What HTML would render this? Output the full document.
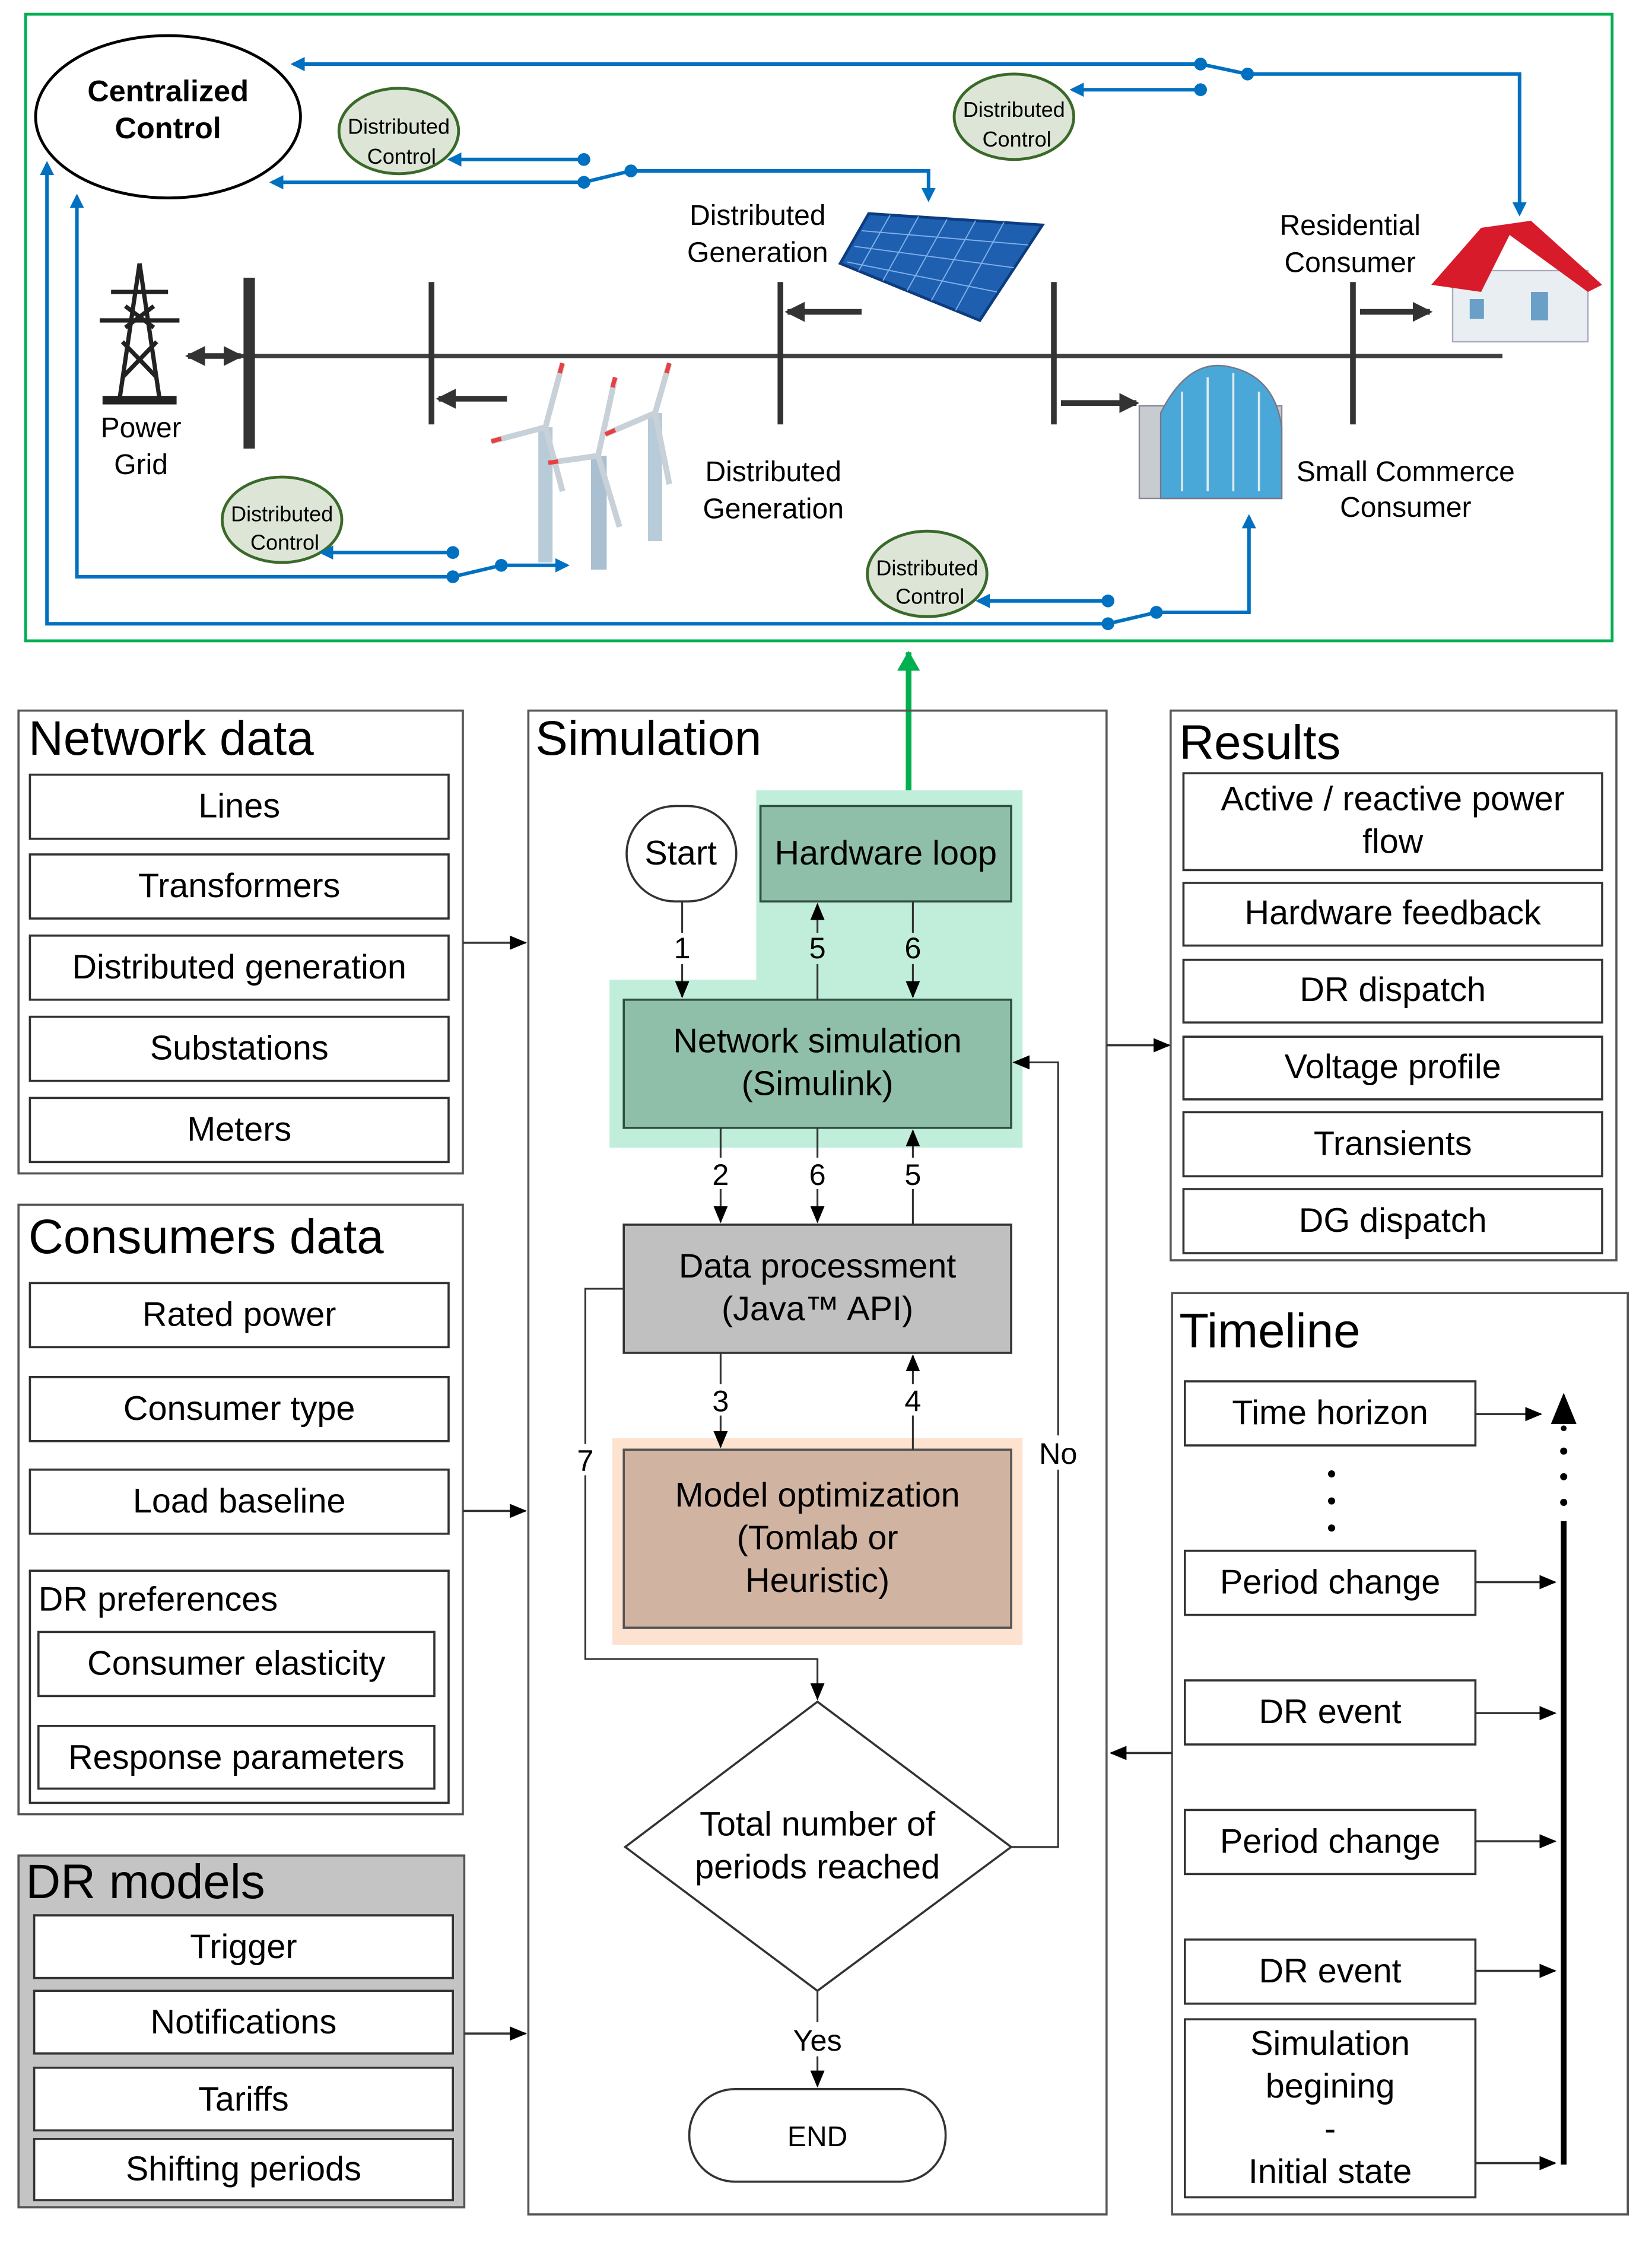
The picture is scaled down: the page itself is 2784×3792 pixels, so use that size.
<!DOCTYPE html>
<html><head><meta charset="utf-8"><style>
html,body{margin:0;padding:0;background:#fff;}
svg{display:block;}
text{font-family:"Liberation Sans",sans-serif;fill:#000;}
</style></head><body>
<svg width="2784" height="3792" viewBox="0 0 1160 1580" xmlns="http://www.w3.org/2000/svg">
<defs>
<marker id="bA" markerWidth="10" markerHeight="10" refX="8" refY="5" orient="auto" markerUnits="userSpaceOnUse"><path d="M0,0 L10,5 L0,10 z" fill="#0070c0"/></marker>
<marker id="kA" markerWidth="12" markerHeight="10" refX="11" refY="5" orient="auto" markerUnits="userSpaceOnUse"><path d="M0,0 L12,5 L0,10 z" fill="#000"/></marker>
<marker id="gA" markerWidth="14" markerHeight="16" refX="13" refY="8" orient="auto" markerUnits="userSpaceOnUse"><path d="M0,0 L14,8 L0,16 z" fill="#00b050"/></marker>
<marker id="dA" markerWidth="14" markerHeight="14" refX="12" refY="7" orient="auto" markerUnits="userSpaceOnUse"><path d="M0,0 L14,7 L0,14 z" fill="#333"/></marker>
</defs>

<!-- top frame -->
<rect x="18" y="10" width="1114" height="440" fill="#fff" stroke="#00b050" stroke-width="2"/>
<ellipse cx="118" cy="82" rx="93" ry="57" fill="#fff" stroke="#000" stroke-width="2"/>
<text x="118" y="71" font-size="21" font-weight="bold" text-anchor="middle">Centralized</text>
<text x="118" y="97" font-size="21" font-weight="bold" text-anchor="middle">Control</text>

<g fill="#dde5d6" stroke="#3a6a2a" stroke-width="2">
<ellipse cx="280" cy="92" rx="42" ry="30"/>
<ellipse cx="712" cy="82" rx="42" ry="30"/>
<ellipse cx="198" cy="365" rx="42" ry="30"/>
<ellipse cx="651" cy="403" rx="42" ry="30"/>
</g>
<g font-size="15" text-anchor="middle">
<text x="280" y="94">Distributed</text><text x="282" y="115">Control</text>
<text x="712" y="82">Distributed</text><text x="714" y="103">Control</text>
<text x="198" y="366">Distributed</text><text x="200" y="386">Control</text>
<text x="651" y="404">Distributed</text><text x="653" y="424">Control</text>
</g>

<g stroke="#0070c0" stroke-width="2.5" fill="none">
<line x1="843" y1="45" x2="206" y2="45" marker-end="url(#bA)"/>
<line x1="843" y1="45" x2="876" y2="52"/>
<polyline points="876,52 1067,52 1067,150" marker-end="url(#bA)"/>
<line x1="843" y1="63" x2="753" y2="63" marker-end="url(#bA)"/>
<line x1="410" y1="112" x2="316" y2="112" marker-end="url(#bA)"/>
<line x1="410" y1="128" x2="191" y2="128" marker-end="url(#bA)"/>
<line x1="410" y1="128" x2="443" y2="120"/>
<polyline points="443,120 652,120 652,140" marker-end="url(#bA)"/>
<line x1="318" y1="388" x2="226" y2="388" marker-end="url(#bA)"/>
<polyline points="318,405 54,405 54,138" marker-end="url(#bA)"/>
<line x1="318" y1="405" x2="352" y2="397"/>
<line x1="352" y1="397" x2="398" y2="397" marker-end="url(#bA)"/>
<line x1="778" y1="422" x2="687" y2="422" marker-end="url(#bA)"/>
<polyline points="778,438 33,438 33,115" marker-end="url(#bA)"/>
<line x1="778" y1="438" x2="812" y2="430"/>
<polyline points="812,430 877,430 877,363" marker-end="url(#bA)"/>
</g>
<g fill="#0070c0">
<circle cx="843" cy="45" r="4.5"/><circle cx="876" cy="52" r="4.5"/><circle cx="843" cy="63" r="4.5"/>
<circle cx="410" cy="112" r="4.5"/><circle cx="410" cy="128" r="4.5"/><circle cx="443" cy="120" r="4.5"/>
<circle cx="318" cy="388" r="4.5"/><circle cx="318" cy="405" r="4.5"/><circle cx="352" cy="397" r="4.5"/>
<circle cx="778" cy="422" r="4.5"/><circle cx="778" cy="438" r="4.5"/><circle cx="812" cy="430" r="4.5"/>
</g>

<!-- power line -->
<line x1="150" y1="250" x2="1055" y2="250" stroke="#404040" stroke-width="3"/>
<rect x="171" y="195" width="8" height="120" fill="#333"/>
<g stroke="#333" stroke-width="4">
<line x1="303" y1="198" x2="303" y2="298"/>
<line x1="548" y1="198" x2="548" y2="298"/>
<line x1="740" y1="198" x2="740" y2="298"/>
<line x1="950" y1="198" x2="950" y2="298"/>
</g>
<g stroke="#333" stroke-width="4" fill="none">
<line x1="150" y1="250" x2="132" y2="250" marker-end="url(#dA)"/>
<line x1="150" y1="250" x2="169" y2="250" marker-end="url(#dA)"/>
<line x1="356" y1="280" x2="308" y2="280" marker-end="url(#dA)"/>
<line x1="605" y1="219" x2="553" y2="219" marker-end="url(#dA)"/>
<line x1="745" y1="283" x2="798" y2="283" marker-end="url(#dA)"/>
<line x1="955" y1="219" x2="1004" y2="219" marker-end="url(#dA)"/>
</g>

<!-- tower -->
<g stroke="#222" stroke-width="3" fill="none">
<line x1="98" y1="185" x2="84" y2="280"/><line x1="98" y1="185" x2="112" y2="280"/>
<line x1="78" y1="205" x2="118" y2="205"/><line x1="70" y1="225" x2="126" y2="225"/>
<line x1="86" y1="240" x2="110" y2="265"/><line x1="110" y1="240" x2="86" y2="265"/>
<line x1="88" y1="215" x2="108" y2="230"/><line x1="108" y1="215" x2="88" y2="230"/>
</g>
<rect x="72" y="278" width="52" height="6" fill="#222"/>
<text x="99" y="307" font-size="20" text-anchor="middle">Power</text>
<text x="99" y="333" font-size="20" text-anchor="middle">Grid</text>

<!-- solar -->
<polygon points="610,150 732,158 688,225 590,185" fill="#1f5fb0" stroke="#0d3c80" stroke-width="2"/>
<g stroke="#7fb0ea" stroke-width="0.8">
<line x1="625" y1="151" x2="603" y2="190"/><line x1="645" y1="152" x2="620" y2="197"/><line x1="665" y1="154" x2="637" y2="204"/><line x1="685" y1="155" x2="654" y2="211"/><line x1="705" y1="156" x2="671" y2="218"/>
<line x1="605" y1="162" x2="722" y2="172"/><line x1="600" y1="173" x2="712" y2="188"/><line x1="595" y1="184" x2="700" y2="205"/>
</g>
<text x="532" y="158" font-size="20" text-anchor="middle">Distributed</text>
<text x="532" y="184" font-size="20" text-anchor="middle">Generation</text>

<!-- wind turbines -->
<g>
<rect x="378" y="300" width="10" height="95" fill="#b8cbd8"/>
<rect x="415" y="320" width="11" height="80" fill="#aac0d0"/>
<rect x="455" y="290" width="10" height="90" fill="#b8cbd8"/>
<g stroke="#c8d0d8" stroke-width="4">
<line x1="383" y1="300" x2="395" y2="255"/><line x1="383" y1="300" x2="345" y2="310"/><line x1="383" y1="300" x2="395" y2="345"/>
<line x1="420" y1="320" x2="432" y2="265"/><line x1="420" y1="320" x2="385" y2="325"/><line x1="420" y1="320" x2="435" y2="370"/>
<line x1="460" y1="290" x2="470" y2="255"/><line x1="460" y1="290" x2="425" y2="305"/><line x1="460" y1="290" x2="470" y2="340"/>
</g>
<g stroke="#e84040" stroke-width="3">
<line x1="393" y1="262" x2="395" y2="255"/><line x1="430" y1="272" x2="432" y2="265"/><line x1="468" y1="262" x2="470" y2="255"/>
<line x1="352" y1="308" x2="345" y2="310"/><line x1="392" y1="324" x2="385" y2="325"/><line x1="432" y1="302" x2="425" y2="305"/>
</g>
</g>
<text x="543" y="338" font-size="20" text-anchor="middle">Distributed</text>
<text x="543" y="364" font-size="20" text-anchor="middle">Generation</text>

<!-- house -->
<rect x="1020" y="190" width="95" height="50" fill="#e8eef2" stroke="#aab" stroke-width="1"/>
<polygon points="1005,200 1040,160 1075,155 1125,200 1115,205 1060,165 1040,205" fill="#d81b2a"/>
<rect x="1032" y="210" width="10" height="14" fill="#6aa0c8"/><rect x="1075" y="205" width="12" height="20" fill="#6aa0c8"/>
<text x="948" y="165" font-size="20" text-anchor="middle">Residential</text>
<text x="948" y="191" font-size="20" text-anchor="middle">Consumer</text>

<!-- commerce -->
<rect x="800" y="285" width="100" height="65" fill="#c8ccd0" stroke="#889" stroke-width="1"/>
<path d="M815,290 Q835,250 865,258 Q895,265 900,300 L900,350 L815,350 z" fill="#4aa8d8" stroke="#778" stroke-width="1"/>
<g stroke="#dfeaf2" stroke-width="1.5"><line x1="830" y1="275" x2="830" y2="345"/><line x1="848" y1="265" x2="848" y2="345"/><line x1="866" y1="262" x2="866" y2="345"/><line x1="884" y1="275" x2="884" y2="345"/></g>
<text x="987" y="338" font-size="20" text-anchor="middle">Small Commerce</text>
<text x="987" y="363" font-size="20" text-anchor="middle">Consumer</text>

<!-- green arrow -->
<line x1="638" y1="555" x2="638" y2="458" stroke="#00b050" stroke-width="4" marker-end="url(#gA)"/>

<!-- ===== Lower part ===== -->
<g fill="none" stroke="#555" stroke-width="1.5">
<rect x="13" y="499" width="312" height="325"/>
<rect x="13" y="846" width="312" height="428"/>
<rect x="371" y="499" width="406" height="1056"/>
<rect x="822" y="499" width="313" height="386"/>
<rect x="823" y="908" width="320" height="647"/>
</g>
<rect x="13" y="1303" width="313" height="247" fill="#c4c4c4" stroke="#555" stroke-width="1.5"/>

<g font-size="34">
<text x="20" y="530">Network data</text>
<text x="20" y="880">Consumers data</text>
<text x="18" y="1333">DR models</text>
<text x="376" y="530">Simulation</text>
<text x="828" y="533">Results</text>
<text x="828" y="946">Timeline</text>
</g>

<g fill="#fff" stroke="#333" stroke-width="1.5">
<rect x="21" y="544" width="294" height="45"/><rect x="21" y="600" width="294" height="45"/>
<rect x="21" y="657" width="294" height="45"/><rect x="21" y="714" width="294" height="45"/>
<rect x="21" y="771" width="294" height="45"/>
<rect x="21" y="901" width="294" height="45"/><rect x="21" y="967" width="294" height="45"/>
<rect x="21" y="1032" width="294" height="45"/><rect x="21" y="1103" width="294" height="163"/>
<rect x="27" y="1146" width="278" height="45"/><rect x="27" y="1212" width="278" height="44"/>
<rect x="24" y="1345" width="294" height="44"/><rect x="24" y="1398" width="294" height="44"/>
<rect x="24" y="1452" width="294" height="44"/><rect x="24" y="1502" width="294" height="43"/>
<rect x="831" y="543" width="294" height="68"/><rect x="831" y="620" width="294" height="44"/>
<rect x="831" y="674" width="294" height="44"/><rect x="831" y="728" width="294" height="44"/>
<rect x="831" y="781" width="294" height="45"/><rect x="831" y="835" width="294" height="45"/>
<rect x="832" y="970" width="204" height="45"/><rect x="832" y="1089" width="204" height="45"/>
<rect x="832" y="1180" width="204" height="45"/><rect x="832" y="1271" width="204" height="45"/>
<rect x="832" y="1362" width="204" height="45"/><rect x="832" y="1418" width="204" height="125"/>
</g>
<g font-size="24" text-anchor="middle">
<text x="168" y="574">Lines</text><text x="168" y="630">Transformers</text>
<text x="168" y="687">Distributed generation</text><text x="168" y="744">Substations</text>
<text x="168" y="801">Meters</text>
<text x="168" y="931">Rated power</text><text x="168" y="997">Consumer type</text>
<text x="168" y="1062">Load baseline</text>
<text x="166" y="1176">Consumer elasticity</text><text x="166" y="1242">Response parameters</text>
<text x="171" y="1375">Trigger</text><text x="171" y="1428">Notifications</text>
<text x="171" y="1482">Tariffs</text><text x="171" y="1531">Shifting periods</text>
<text x="978" y="569">Active / reactive power</text><text x="978" y="599">flow</text>
<text x="978" y="649">Hardware feedback</text><text x="978" y="703">DR dispatch</text>
<text x="978" y="757">Voltage profile</text><text x="978" y="811">Transients</text>
<text x="978" y="865">DG dispatch</text>
<text x="934" y="1000">Time horizon</text><text x="934" y="1119">Period change</text>
<text x="934" y="1210">DR event</text><text x="934" y="1301">Period change</text>
<text x="934" y="1392">DR event</text>
<text x="934" y="1443">Simulation</text><text x="934" y="1473">begining</text>
<text x="934" y="1503">-</text><text x="934" y="1533">Initial state</text>
</g>
<text x="27" y="1131" font-size="24">DR preferences</text>

<!-- side arrows -->
<g stroke="#333" stroke-width="1.5" fill="none">
<line x1="325" y1="662" x2="369" y2="662" marker-end="url(#kA)"/>
<line x1="325" y1="1061" x2="369" y2="1061" marker-end="url(#kA)"/>
<line x1="326" y1="1428" x2="369" y2="1428" marker-end="url(#kA)"/>
<line x1="777" y1="734" x2="821" y2="734" marker-end="url(#kA)"/>
<line x1="823" y1="1231" x2="780" y2="1231" marker-end="url(#kA)"/>
<line x1="1036" y1="993" x2="1082" y2="993" marker-end="url(#kA)"/>
<line x1="1036" y1="1111" x2="1092" y2="1111" marker-end="url(#kA)"/>
<line x1="1036" y1="1203" x2="1092" y2="1203" marker-end="url(#kA)"/>
<line x1="1036" y1="1293" x2="1092" y2="1293" marker-end="url(#kA)"/>
<line x1="1036" y1="1384" x2="1092" y2="1384" marker-end="url(#kA)"/>
<line x1="1036" y1="1519" x2="1092" y2="1519" marker-end="url(#kA)"/>
</g>
<line x1="1098" y1="1520" x2="1098" y2="1068" stroke="#000" stroke-width="4"/>
<g fill="#000"><circle cx="1098" cy="1055" r="2.5"/><circle cx="1098" cy="1037" r="2.5"/><circle cx="1098" cy="1019" r="2.5"/><circle cx="1098" cy="1003" r="2"/>
<polygon points="1098,978 1089,1000 1107,1000"/>
<circle cx="935" cy="1035" r="2.5"/><circle cx="935" cy="1054" r="2.5"/><circle cx="935" cy="1073" r="2.5"/></g>

<!-- simulation internals -->
<path d="M531,555 L718,555 L718,806 L428,806 L428,688 L531,688 z" fill="#c0eedb"/>
<rect x="430" y="1010" width="288" height="145" fill="#fde2cf"/>
<rect x="534" y="566" width="176" height="67" fill="#8fbfa9" stroke="#2f4f3f" stroke-width="1.5"/>
<text x="622" y="607" font-size="24" text-anchor="middle" fill="#0a2a1a">Hardware loop</text>
<rect x="440" y="566" width="77" height="67" rx="34" ry="34" fill="#fff" stroke="#333" stroke-width="1.5"/>
<text x="478" y="607" font-size="24" text-anchor="middle">Start</text>
<rect x="438" y="702" width="272" height="90" fill="#8fbfa9" stroke="#2f4f3f" stroke-width="1.5"/>
<text x="574" y="739" font-size="24" text-anchor="middle" fill="#0a2a1a">Network simulation</text>
<text x="574" y="769" font-size="24" text-anchor="middle" fill="#0a2a1a">(Simulink)</text>
<rect x="438" y="860" width="272" height="90" fill="#c0c0c0" stroke="#333" stroke-width="1.5"/>
<text x="574" y="897" font-size="24" text-anchor="middle">Data processment</text>
<text x="574" y="927" font-size="24" text-anchor="middle">(Java™ API)</text>
<rect x="438" y="1018" width="272" height="125" fill="#d1b3a1" stroke="#555" stroke-width="1.5"/>
<text x="574" y="1058" font-size="24" text-anchor="middle" fill="#3a1a0a">Model optimization</text>
<text x="574" y="1088" font-size="24" text-anchor="middle" fill="#3a1a0a">(Tomlab or</text>
<text x="574" y="1118" font-size="24" text-anchor="middle" fill="#3a1a0a">Heuristic)</text>
<polygon points="574,1195 710,1297 574,1398 439,1297" fill="#fff" stroke="#333" stroke-width="1.5"/>
<text x="574" y="1289" font-size="24" text-anchor="middle">Total number of</text>
<text x="574" y="1319" font-size="24" text-anchor="middle">periods reached</text>
<rect x="484" y="1467" width="180" height="65" rx="32" ry="32" fill="#fff" stroke="#333" stroke-width="1.5"/>
<text x="574" y="1507" font-size="20" text-anchor="middle">END</text>

<g stroke="#333" stroke-width="1.3" fill="none">
<line x1="479" y1="633" x2="479" y2="700" marker-end="url(#kA)"/>
<line x1="574" y1="702" x2="574" y2="635" marker-end="url(#kA)"/>
<line x1="641" y1="633" x2="641" y2="700" marker-end="url(#kA)"/>
<line x1="506" y1="792" x2="506" y2="858" marker-end="url(#kA)"/>
<line x1="574" y1="792" x2="574" y2="858" marker-end="url(#kA)"/>
<line x1="641" y1="860" x2="641" y2="794" marker-end="url(#kA)"/>
<line x1="506" y1="950" x2="506" y2="1016" marker-end="url(#kA)"/>
<line x1="641" y1="1018" x2="641" y2="952" marker-end="url(#kA)"/>
<polyline points="438,905 411,905 411,1165 574,1165 574,1193" marker-end="url(#kA)"/>
<polyline points="710,1297 743,1297 743,746 712,746" marker-end="url(#kA)"/>
<line x1="574" y1="1398" x2="574" y2="1465" marker-end="url(#kA)"/>
</g>
<g font-size="21" text-anchor="middle">
<rect x="470" y="655" width="18" height="22" fill="#fff"/><text x="479" y="673">1</text>
<rect x="565" y="655" width="18" height="22" fill="#c0eedb"/><text x="574" y="673">5</text>
<rect x="632" y="655" width="18" height="22" fill="#c0eedb"/><text x="641" y="673">6</text>
<rect x="497" y="813" width="18" height="22" fill="#fff"/><text x="506" y="832">2</text>
<rect x="565" y="813" width="18" height="22" fill="#fff"/><text x="574" y="832">6</text>
<rect x="632" y="813" width="18" height="22" fill="#fff"/><text x="641" y="832">5</text>
<rect x="497" y="972" width="18" height="22" fill="#fff"/><text x="506" y="991">3</text>
<rect x="632" y="972" width="18" height="22" fill="#fff"/><text x="641" y="991">4</text>
<rect x="402" y="1014" width="18" height="22" fill="#fff"/><text x="411" y="1033">7</text>
<rect x="727" y="1008" width="32" height="24" fill="#fff"/><text x="743" y="1028">No</text>
<rect x="554" y="1420" width="40" height="24" fill="#fff"/><text x="574" y="1440">Yes</text>
</g>
</svg>
</body></html>
